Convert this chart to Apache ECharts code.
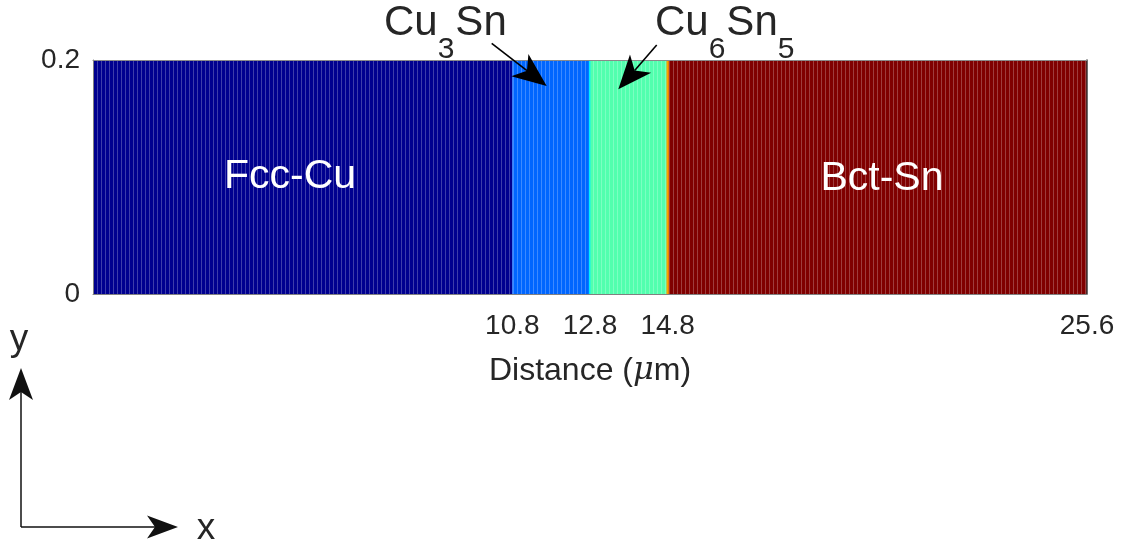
<!DOCTYPE html>
<html>
<head>
<meta charset="utf-8">
<title>Cu / Sn diffusion couple</title>
<script src="https://cdn.jsdelivr.net/npm/echarts@6.0.0/dist/echarts.min.js"></script>
<style>
  html, body { margin: 0; padding: 0; background: #fff; }
  #chart { width: 1123px; height: 546px; }
</style>
</head>
<body>
<div id="chart"></div>
<script>
// Domain and tick labels (µm along x, thickness along y)
const xMin = 0;
const xMax = 25.6;
const yMin = 0;
const yMax = 0.2;
const distanceTicks = [10.8, 12.8, 14.8, 25.6];

// Phase layers: extent along x and the phase-field value used for colouring
const phaseNames = ['Fcc-Cu', 'Cu3Sn', 'Cu6Sn5', 'Bct-Sn'];
const phaseStart = [0, 10.8, 12.8, 14.8];
const phaseEnd = [10.8, 12.8, 14.8, 25.6];
const phaseValue = [0, 0.225, 0.455, 1];

// Thin diffuse interfaces between the intermetallic layers
const interfaceStart = [12.77, 14.77];
const interfaceEnd = [12.81, 14.83];
const interfaceValue = [0.36, 0.72];

const TEXT = '#262626';
const FONT = 'Liberation Sans, Arial, Helvetica, sans-serif';

// jet colour map, 9 evenly spaced stops
const jet = ['#00008F', '#0000FF', '#0080FF', '#00FFFF', '#80FF80',
             '#FFFF00', '#FF8000', '#FF0000', '#800000'];

const layerData = phaseStart.map((s, i) => [s, phaseEnd[i], phaseValue[i]])
  .concat(interfaceStart.map((s, i) => [s, interfaceEnd[i], interfaceValue[i]]));

const chart = echarts.init(document.getElementById('chart'), null, { renderer: 'canvas' });

function renderLayer(params, api) {
  const p0 = api.coord([api.value(0), yMax]);
  const p1 = api.coord([api.value(1), yMin]);
  const x = p0[0], y = p0[1], w = p1[0] - p0[0], h = p1[1] - p0[1];
  const children = [{
    type: 'rect',
    shape: { x: x, y: y, width: w, height: h },
    style: { fill: api.visual('color') }
  }];
  // element-edge shading of the mesh inside each bulk phase
  if (params.dataIndex < phaseStart.length) {
    const gx0 = api.coord([xMin, yMin])[0];
    const period = 4;
    for (let k = Math.ceil((x - gx0) / period); gx0 + k * period < x + w - 1; k++) {
      const sx = Math.round(gx0 + k * period) + 0.5;
      if (sx <= x + 1) continue;
      children.push({
        type: 'rect',
        shape: { x: sx - 0.5, y: y, width: 1, height: h },
        style: { fill: 'rgba(255,255,255,0.24)' }
      });
    }
  }
  return { type: 'group', children: children };
}

// Arrow with a notched head, pointing from `from` to `tip`
function arrow(from, tip, len, half, notch, width, color) {
  const dx = tip[0] - from[0], dy = tip[1] - from[1];
  const d = Math.hypot(dx, dy);
  const ux = dx / d, uy = dy / d, nx = -uy, ny = ux;
  const bx = tip[0] - ux * len, by = tip[1] - uy * len;
  const mx = tip[0] - ux * (len - notch), my = tip[1] - uy * (len - notch);
  return [
    { type: 'line', z: 100, shape: { x1: from[0], y1: from[1], x2: mx, y2: my },
      style: { stroke: color, lineWidth: width } },
    { type: 'polygon', z: 100,
      shape: { points: [tip, [bx + nx * half, by + ny * half], [mx, my], [bx - nx * half, by - ny * half]] },
      style: { fill: color } }
  ];
}

// Measure text so subscripted labels can be laid out piece by piece
const measureCtx = document.createElement('canvas').getContext('2d');
function textWidth(str, size) {
  measureCtx.font = size + 'px ' + FONT;
  return measureCtx.measureText(str).width;
}
function subscriptLabel(parts, x0, yMain, ySub, sizeMain, sizeSub) {
  const out = [];
  let x = x0;
  parts.forEach(p => {
    const size = p.sub ? sizeSub : sizeMain;
    out.push({
      type: 'text', z: 100, x: x, y: p.sub ? ySub : yMain,
      style: { text: p.t, fontSize: size, fontFamily: FONT, fill: TEXT,
               align: 'left', verticalAlign: 'middle' }
    });
    x += textWidth(p.t, size) + (p.sub ? 1 : 0);
  });
  return out;
}

const graphics = []
  .concat(subscriptLabel([{ t: 'Cu' }, { t: '3', sub: true }, { t: 'Sn' }], 384, 23, 50, 42, 30))
  .concat(subscriptLabel([{ t: 'Cu' }, { t: '6', sub: true }, { t: 'Sn' }, { t: '5', sub: true }], 655, 23, 50, 42, 30))
  .concat(arrow([491.7, 43.3], [546.7, 86], 34, 14, 9, 1.6, '#000'))
  .concat(arrow([656.7, 45], [618.3, 89.3], 34, 14, 9, 1.6, '#000'))
  .concat(arrow([21, 527], [21, 368], 32, 12, 8, 1.5, '#111'))
  .concat(arrow([21, 527], [178, 527], 31, 11.5, 8, 1.5, '#111'))
  .concat([
    { type: 'text', z: 100, x: 290, y: 177,
      style: { text: phaseNames[0], fontSize: 41, fontFamily: FONT, fill: '#fff', align: 'center', verticalAlign: 'middle' } },
    { type: 'text', z: 100, x: 882, y: 179,
      style: { text: phaseNames[3], fontSize: 41, fontFamily: FONT, fill: '#fff', align: 'center', verticalAlign: 'middle' } },
    { type: 'text', z: 100, x: 19, y: 340,
      style: { text: 'y', fontSize: 37, fontFamily: FONT, fill: TEXT, align: 'center', verticalAlign: 'middle' } },
    { type: 'text', z: 100, x: 206, y: 529,
      style: { text: 'x', fontSize: 37, fontFamily: FONT, fill: TEXT, align: 'center', verticalAlign: 'middle' } }
  ]);

const hiddenAxisParts = {
  axisTick: { show: false },
  axisLabel: { show: false },
  splitLine: { show: false }
};

chart.setOption({
  animation: false,
  backgroundColor: '#fff',
  grid: { left: 93, right: 36, top: 60, bottom: 252, containLabel: false },
  visualMap: {
    show: false, type: 'continuous', min: 0, max: 1, dimension: 2, seriesIndex: 0,
    inRange: { color: jet }
  },
  xAxis: [
    {
      type: 'value', position: 'bottom', min: xMin, max: xMax, z: 10,
      name: 'Distance ({mu|μ}m)', nameLocation: 'middle', nameGap: 61,
      nameTextStyle: {
        fontSize: 32, fontFamily: FONT, color: TEXT, lineHeight: 32,
        rich: { mu: { fontSize: 32, fontFamily: 'DejaVu Serif, serif', fontStyle: 'italic', color: TEXT, lineHeight: 32 } }
      },
      axisLine: { show: true, onZero: false, lineStyle: { color: '#808080', width: 1 } },
      axisTick: { show: false },
      splitLine: { show: false },
      axisLabel: {
        customValues: distanceTicks, margin: 18,
        fontSize: 28, lineHeight: 28, fontFamily: FONT, color: TEXT,
        formatter: v => String(v)
      }
    },
    Object.assign({
      type: 'value', position: 'top', min: xMin, max: xMax, z: 10,
      axisLine: { show: true, onZero: false, lineStyle: { color: '#8a8a8a', width: 1 } }
    }, hiddenAxisParts)
  ],
  yAxis: [
    {
      type: 'value', position: 'left', min: yMin, max: yMax, interval: 0.2, z: 10,
      axisLine: { show: true, onZero: false, lineStyle: { color: '#808080', width: 1 } },
      axisTick: { show: false },
      splitLine: { show: false },
      axisLabel: { margin: 13, fontSize: 28, lineHeight: 28, fontFamily: FONT, color: TEXT, padding: [6, 0, 0, 0] }
    },
    Object.assign({
      type: 'value', position: 'right', min: yMin, max: yMax, z: 10,
      axisLine: { show: true, onZero: false, lineStyle: { color: '#3a3a3a', width: 1.5 } }
    }, hiddenAxisParts)
  ],
  series: [{
    type: 'custom',
    name: 'phase',
    xAxisIndex: 0,
    yAxisIndex: 0,
    renderItem: renderLayer,
    encode: { x: [0, 1] },
    data: layerData,
    clip: true,
    silent: true
  }],
  graphic: graphics
});
</script>
</body>
</html>
